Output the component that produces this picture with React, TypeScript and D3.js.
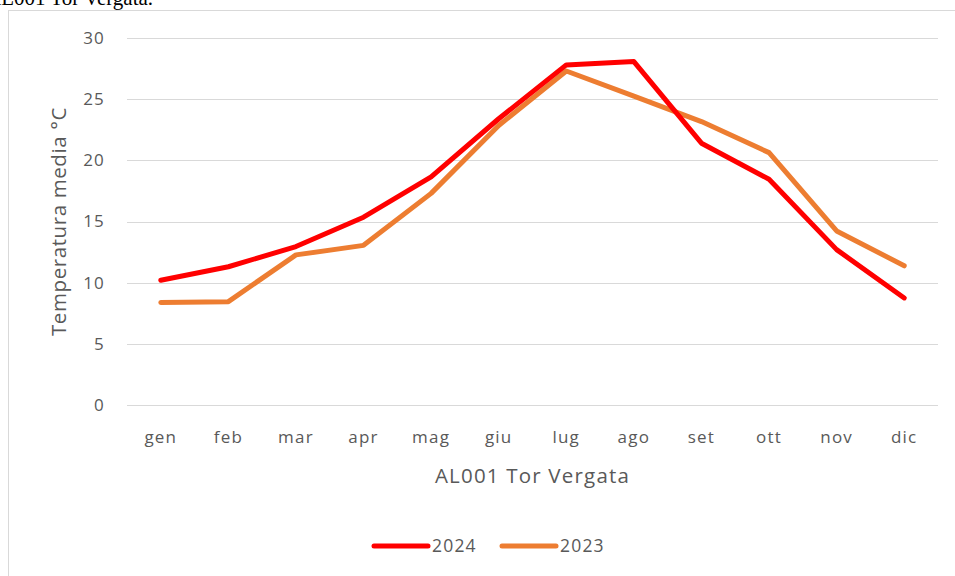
import React, { useEffect, useRef } from "react";
import * as d3 from "d3";

const months = ["gen", "feb", "mar", "apr", "mag", "giu", "lug", "ago", "set", "ott", "nov", "dic"];
const values2024 = [10.2, 11.3, 12.95, 15.35, 18.65, 23.4, 27.8, 28.07, 21.4, 18.45, 12.7, 8.75];
const values2023 = [8.38, 8.45, 12.27, 13.05, 17.3, 22.85, 27.3, 25.25, 23.17, 20.63, 14.23, 11.38];
const yTicks = [0, 5, 10, 15, 20, 25, 30];
const seriesNames = ["2024", "2023"];
const seriesColors = ["#ff0000", "#ed7d31"];

const W = 955;
const H = 576;
const FONT = "'Open Sans', Lato, sans-serif";

export default function App() {
  const ref = useRef<SVGSVGElement | null>(null);

  useEffect(() => {
    const svg = d3.select(ref.current);
    svg.selectAll("*").remove();

    const left = 127, right = 938, top = 38, bottom = 405;
    const x = d3.scaleBand<string>().domain(months).range([left, right]);
    const y = d3.scaleLinear().domain([0, 30]).range([bottom, top]);

    svg.append("rect").attr("width", W).attr("height", H).attr("fill", "#fff");

    // header text partly cut off
    svg.append("text")
      .attr("x", -14).attr("y", 5)
      .attr("font-family", "'Liberation Serif', 'DejaVu Serif', serif")
      .attr("font-size", 21).attr("fill", "#000")
      .text("AL001 Tor Vergata.");

    // frame
    svg.append("rect")
      .attr("x", 8.5).attr("y", 10.5).attr("width", 960).attr("height", 600)
      .attr("fill", "#fff").attr("stroke", "#d9d9d9").attr("stroke-width", 1);

    // gridlines
    svg.append("g").selectAll("line").data(yTicks).join("line")
      .attr("x1", left).attr("x2", right)
      .attr("y1", (d) => Math.round(y(d)) + 0.5).attr("y2", (d) => Math.round(y(d)) + 0.5)
      .attr("stroke", "#d9d9d9").attr("stroke-width", 1);

    // y tick labels
    svg.append("g").selectAll("text").data(yTicks).join("text")
      .attr("x", 105).attr("y", (d) => y(d))
      .attr("dy", "0.35em")
      .attr("text-anchor", "end")
      .attr("font-family", FONT).attr("font-size", 17).attr("letter-spacing", 1.2).attr("fill", "#595959")
      .text((d) => String(d));

    // x tick labels
    svg.append("g").selectAll("text").data(months).join("text")
      .attr("x", (d) => (x(d) as number) + x.bandwidth() / 2).attr("y", 443)
      .attr("text-anchor", "middle")
      .attr("font-family", FONT).attr("font-size", 17).attr("letter-spacing", 1.2).attr("fill", "#595959")
      .text((d) => d);

    // axis titles
    svg.append("text")
      .attr("x", (left + right) / 2).attr("y", 483)
      .attr("text-anchor", "middle")
      .attr("font-family", FONT).attr("font-size", 20.5).attr("letter-spacing", 1.2).attr("fill", "#595959")
      .text("AL001 Tor Vergata");

    svg.append("text")
      .attr("transform", `translate(66, ${(top + bottom) / 2}) rotate(-90)`)
      .attr("text-anchor", "middle")
      .attr("font-family", FONT).attr("font-size", 20.5).attr("letter-spacing", 0.6).attr("fill", "#595959")
      .text("Temperatura media °C");

    const line = d3.line<number>()
      .x((_, i) => (x(months[i]) as number) + x.bandwidth() / 2)
      .y((d) => y(d));

    const data = [values2024, values2023];
    [1, 0].forEach((k) => {
      svg.append("path")
        .datum(data[k])
        .attr("d", line)
        .attr("fill", "none")
        .attr("stroke", seriesColors[k])
        .attr("stroke-width", 5)
        .attr("stroke-linecap", "round")
        .attr("stroke-linejoin", "round");
    });

    // legend
    const legendY = 546;
    const legendItems = [
      { x1: 374, x2: 428, tx: 432 },
      { x1: 502, x2: 556, tx: 560 },
    ];
    legendItems.forEach((it, k) => {
      svg.append("line")
        .attr("x1", it.x1).attr("x2", it.x2).attr("y1", legendY).attr("y2", legendY)
        .attr("stroke", seriesColors[k]).attr("stroke-width", 5).attr("stroke-linecap", "round");
      svg.append("text")
        .attr("x", it.tx).attr("y", legendY).attr("dy", "0.35em")
        .attr("font-family", FONT).attr("font-size", 17.5).attr("letter-spacing", 1.2).attr("fill", "#595959")
        .text(seriesNames[k]);
    });
  }, []);

  return (
    <svg
      ref={ref}
      width={W}
      height={H}
      style={{ position: "absolute", left: 0, top: 0, display: "block" }}
    />
  );
}
